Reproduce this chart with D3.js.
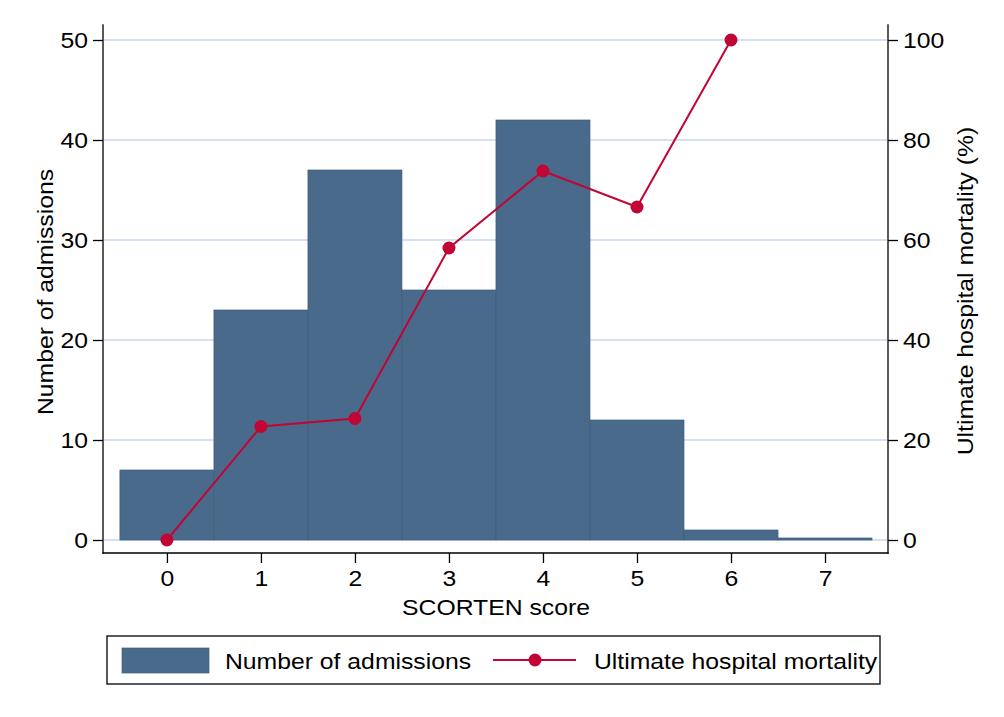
<!DOCTYPE html>
<html>
<head>
<meta charset="utf-8">
<script src="https://cdn.jsdelivr.net/npm/d3@7"></script>
<style>
  body { margin: 0; background: #fff; }
  text { font-family: "Liberation Sans", Arial, sans-serif; fill: #000; }
</style>
</head>
<body>
<div id="chart"></div>
<script>
// SCORTEN score categories
const scores = [0, 1, 2, 3, 4, 5, 6, 7];
// Number of admissions per score
const admissions = [7, 23, 37, 25, 42, 12, 1, 0.2];
// Ultimate hospital mortality (%) per score (no value for 7)
const mortalityScores = [0, 1, 2, 3, 4, 5, 6];
const mortality = [0, 22.7, 24.3, 58.4, 73.8, 66.6, 100];
// tick labels
const leftTicks = [0, 10, 20, 30, 40, 50];
const rightTicks = [0, 20, 40, 60, 80, 100];

const W = 1004, H = 717;
const FS = 22.5, SX = 1.1; // font size and horizontal glyph widening

const svg = d3.select('#chart').append('svg')
    .attr('width', W).attr('height', H);

const x = d3.scaleLinear().domain([-0.68, 7.67]).range([103, 888]);
const yL = d3.scaleLinear().domain([-1.3, 51.5]).range([553, 25]);
const yR = d3.scaleLinear().domain([-2.6, 103]).range([553, 25]);

// grid lines
svg.append('g').selectAll('line')
    .data(leftTicks).enter().append('line')
    .attr('x1', 104).attr('x2', 887)
    .attr('y1', d => yL(d)).attr('y2', d => yL(d))
    .attr('stroke', '#d5e1f7').attr('stroke-width', 2);

// bars
const bw = x(1) - x(0);
svg.append('g').selectAll('rect')
    .data(scores).enter().append('rect')
    .attr('x', d => x(d - 0.5))
    .attr('width', bw)
    .attr('y', (d, i) => yL(admissions[i]))
    .attr('height', (d, i) => yL(0) - yL(admissions[i]))
    .attr('fill', '#496a8a')
    .attr('stroke', '#3e5f7f')
    .attr('stroke-width', 0.7);

// mortality line
const line = d3.line()
    .x((d, i) => x(mortalityScores[i]))
    .y(d => yR(d));
svg.append('path')
    .datum(mortality)
    .attr('d', line)
    .attr('fill', 'none')
    .attr('stroke', '#c10534')
    .attr('stroke-width', 2);
svg.append('g').selectAll('circle')
    .data(mortality).enter().append('circle')
    .attr('cx', (d, i) => x(mortalityScores[i]))
    .attr('cy', d => yR(d))
    .attr('r', 6.5)
    .attr('fill', '#c10534');

// axes
const styleAxis = g => {
    g.select('.domain').remove();
    g.selectAll('.tick line').attr('stroke', '#000').attr('stroke-width', 1.3);
    g.selectAll('.tick text').style('font-size', FS + 'px').attr('fill', '#000');
};

svg.append('g')
    .attr('transform', 'translate(103,0)')
    .call(d3.axisLeft(yL).tickValues(leftTicks).tickSize(10).tickPadding(5))
    .call(styleAxis);

svg.append('g')
    .attr('transform', 'translate(888,0)')
    .call(d3.axisRight(yR).tickValues(rightTicks).tickSize(10).tickPadding(5))
    .call(styleAxis);

svg.append('g')
    .attr('transform', 'translate(0,553)')
    .call(d3.axisBottom(x).tickValues(scores).tickSize(10).tickPadding(7))
    .call(styleAxis);

// axis lines
const axisLines = [[103, 25, 103, 553], [103, 553, 888, 553], [888, 25, 888, 553]];
svg.append('g').selectAll('line')
    .data(axisLines).enter().append('line')
    .attr('x1', d => d[0]).attr('y1', d => d[1])
    .attr('x2', d => d[2]).attr('y2', d => d[3])
    .attr('stroke', '#000').attr('stroke-width', 1.3)
    .attr('stroke-linecap', 'square');

// titles
const title = (txt, tx, ty, rot, anchor) => svg.append('text')
    .attr('transform', `translate(${tx},${ty}) rotate(${rot}) scale(${SX},1)`)
    .attr('text-anchor', anchor || 'middle')
    .style('font-size', FS + 'px')
    .text(txt);

title('SCORTEN score', 496, 615, 0);
title('Number of admissions', 53, 292, -90);
title('Ultimate hospital mortality (%)', 973, 291, -90);

// legend
const lg = svg.append('g');
lg.append('rect')
    .attr('x', 107).attr('y', 636).attr('width', 773).attr('height', 48)
    .attr('fill', '#fff').attr('stroke', '#000').attr('stroke-width', 1.3);
lg.append('rect')
    .attr('x', 122).attr('y', 648).attr('width', 87).attr('height', 25)
    .attr('fill', '#496a8a').attr('stroke', '#3e5f7f').attr('stroke-width', 0.7);
lg.append('line')
    .attr('x1', 493).attr('x2', 576).attr('y1', 660).attr('y2', 660)
    .attr('stroke', '#c10534').attr('stroke-width', 2);
lg.append('circle')
    .attr('cx', 535).attr('cy', 660).attr('r', 6.5).attr('fill', '#c10534');
title('Number of admissions', 225, 669, 0, 'start');
title('Ultimate hospital mortality', 594, 669, 0, 'start');

// widen tick label glyphs like the reference
svg.selectAll('.tick text').each(function () {
    const t = d3.select(this);
    const tx = +t.attr('x') || 0;
    const ty = +t.attr('y') || 0;
    t.attr('transform', `translate(${tx},${ty}) scale(${SX},1)`)
        .attr('x', 0).attr('y', 0);
});
</script>
</body>
</html>
